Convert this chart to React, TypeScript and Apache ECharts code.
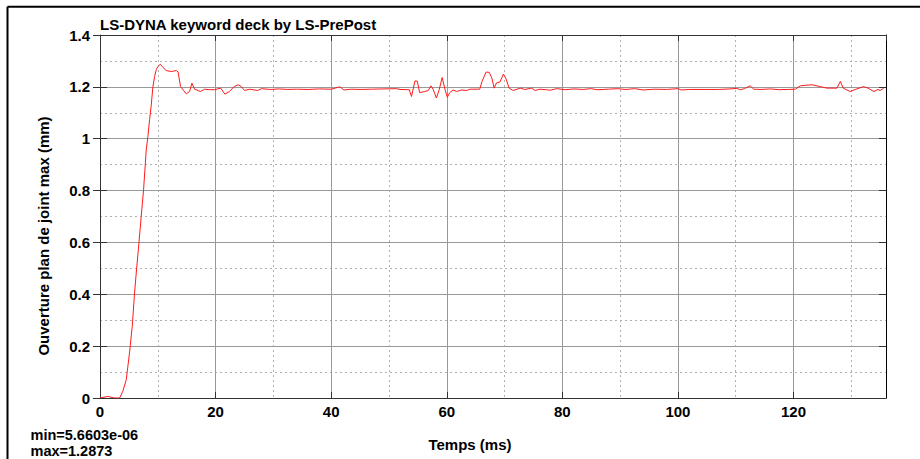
import React, { useEffect, useRef } from "react";
import * as echarts from "echarts";

const timeMs: number[] = [
  0, 1.35, 2.5, 3.4, 3.95, 4.54, 5.1, 5.58, 5.98, 6.27, 6.73, 7.13, 7.54, 8.0, 8.29, 8.58, 8.87, 9.15, 9.45, 9.73,
  10.0, 10.43, 10.9, 11.46, 12.33, 13.2, 13.5, 13.94, 14.93, 15.5, 15.9, 16.37, 17.4, 18.1, 18.97, 19.8, 20.9,
  21.6, 22.4, 23.2, 23.9, 24.45, 25.0, 25.9, 27.3, 27.9, 29.5, 31, 32.5, 34, 36, 38, 40, 41.5, 42.2, 43.5, 45,
  47, 49, 51.3, 51.9, 53.5, 53.9, 54.5, 54.9, 55.3, 56.2, 56.8, 57.25, 57.65, 58.2, 58.7, 59.2, 59.7, 60.1,
  60.5, 61.1, 61.7, 62.6, 63.4, 64.0, 65.7, 66.1, 66.8, 67.35, 67.8, 68.2, 68.6, 69.2, 69.8, 70.2, 70.8, 71.5,
  72.7, 73.5, 74.7, 75.3, 76.1, 77.3, 77.9, 79, 80.5, 82, 83.5, 85, 86, 88, 89.5, 91, 92.5, 94, 96, 98, 100,
  100.6, 102, 105, 107, 109, 110.2, 110.8, 111.5, 112.5, 113.1, 114.5, 116, 117.5, 119, 120.3, 121.2, 122,
  123.2, 124.6, 125.8, 127.5, 128.1, 128.6, 129.8, 130.7, 132.1, 132.9, 133.9, 134.6, 135.0, 135.6,
];

const opening: number[] = [
  0, 0.006, 0, 0, 0.026, 0.07, 0.173, 0.276, 0.405, 0.482, 0.597, 0.7, 0.803, 0.957, 1.009, 1.073, 1.13, 1.2,
  1.24, 1.266, 1.278, 1.2873, 1.275, 1.263, 1.259, 1.263, 1.258, 1.201, 1.173, 1.182, 1.214, 1.191, 1.182,
  1.191, 1.189, 1.189, 1.195, 1.172, 1.182, 1.201, 1.208, 1.201, 1.186, 1.191, 1.186, 1.193, 1.19, 1.192,
  1.19, 1.191, 1.19, 1.192, 1.191, 1.2, 1.188, 1.191, 1.19, 1.191, 1.192, 1.193, 1.19, 1.189, 1.163, 1.223,
  1.222, 1.178, 1.182, 1.186, 1.204, 1.19, 1.157, 1.19, 1.236, 1.19, 1.16, 1.177, 1.188, 1.182, 1.188, 1.186,
  1.191, 1.191, 1.221, 1.257, 1.256, 1.234, 1.195, 1.215, 1.219, 1.249, 1.234, 1.195, 1.186, 1.195, 1.19,
  1.195, 1.186, 1.191, 1.189, 1.187, 1.193, 1.189, 1.192, 1.19, 1.193, 1.189, 1.191, 1.193, 1.19, 1.193,
  1.188, 1.191, 1.19, 1.193, 1.188, 1.19, 1.19, 1.19, 1.192, 1.194, 1.189, 1.193, 1.204, 1.191, 1.19, 1.192,
  1.189, 1.19, 1.191, 1.204, 1.206, 1.208, 1.201, 1.195, 1.195, 1.221, 1.195, 1.182, 1.19, 1.201, 1.195,
  1.182, 1.19, 1.186, 1.195,
];

const xTickValues: number[] = [0, 20, 40, 60, 80, 100, 120];
const yTickValues: number[] = [0, 0.2, 0.4, 0.6, 0.8, 1, 1.2, 1.4];

const titleText = "LS-DYNA keyword deck by LS-PrePost";
const xName = "Temps (ms)";
const yName = "Ouverture plan de joint max (mm)";
const minText = "min=5.6603e-06";
const maxText = "max=1.2873";

const FONT = '"Liberation Sans", Arial, sans-serif';

export default function App() {
  const ref = useRef<HTMLDivElement>(null);
  useEffect(() => {
    if (!ref.current) return;
    const chart = echarts.init(ref.current, null, { renderer: "svg" });
    const data = timeMs.map((t, i) => [t, opening[i]]);
    const xMin = 0;
    const xMax = 136;
    const yMin = 0;
    const yMax = 1.4;
    const noLabel = { show: false };
    const xFmt = (v: number) => (xTickValues.indexOf(Math.round(v * 1000) / 1000) >= 0 ? String(v) : "");
    const yFmt = (v: number) => {
      const r = Math.round(v * 1000) / 1000;
      return yTickValues.indexOf(r) >= 0 ? String(r) : "";
    };
    chart.setOption({
      animation: false,
      backgroundColor: "#ffffff",
      grid: { left: 100, right: 34, top: 35, bottom: 61, containLabel: false, outerBoundsMode: "none" },
      xAxis: [
        {
          type: "value", min: xMin, max: xMax, interval: 10, position: "bottom", z: 0,
          axisLine: { show: false, onZero: false }, axisTick: { show: false }, axisLabel: noLabel,
          splitLine: { show: true, lineStyle: { color: "#b0b0b0", width: 1, type: [2, 3] } },
        },
        {
          type: "value", min: xMin, max: xMax, interval: 20, position: "bottom", z: 1,
          axisLine: { show: true, onZero: false, lineStyle: { color: "#333", width: 1 } },
          axisTick: { show: true, inside: true, length: 6, lineStyle: { color: "#333" } },
          axisLabel: { show: true, margin: 6, formatter: xFmt, showMaxLabel: false, color: "#000", fontSize: 15, fontWeight: "bold", fontFamily: FONT },
          splitLine: { show: true, lineStyle: { color: "#999", width: 1 } },
        },
        {
          type: "value", min: xMin, max: xMax, interval: 20, position: "top", z: 3,
          axisLine: { show: true, onZero: false, lineStyle: { color: "#333", width: 1 } },
          axisTick: { show: true, inside: true, length: 6, lineStyle: { color: "#333" } },
          axisLabel: noLabel, splitLine: { show: false },
        },
      ],
      yAxis: [
        {
          type: "value", min: yMin, max: yMax, interval: 0.1, position: "left", z: 0,
          axisLine: { show: false, onZero: false }, axisTick: { show: false }, axisLabel: noLabel,
          splitLine: { show: true, lineStyle: { color: "#b0b0b0", width: 1, type: [2, 3] } },
        },
        {
          type: "value", min: yMin, max: yMax, interval: 0.2, position: "left", z: 1,
          axisLine: { show: true, onZero: false, lineStyle: { color: "#333", width: 1 } },
          axisTick: { show: true, inside: false, length: 7, lineStyle: { color: "#333" } },
          axisLabel: { show: true, margin: 10, formatter: yFmt, color: "#000", fontSize: 15, fontWeight: "bold", fontFamily: FONT },
          splitLine: { show: true, lineStyle: { color: "#999", width: 1 } },
        },
        {
          type: "value", min: yMin, max: yMax, interval: 0.2, position: "left", z: 3,
          axisLine: { show: false, onZero: false },
          axisTick: { show: true, inside: true, length: 7, lineStyle: { color: "#333" } },
          axisLabel: noLabel, splitLine: { show: false },
        },
        {
          type: "value", min: yMin, max: yMax, interval: 0.2, position: "right", z: 3,
          axisLine: { show: true, onZero: false, lineStyle: { color: "#000", width: 1 } },
          axisTick: { show: true, inside: true, length: 7, lineStyle: { color: "#333" } },
          axisLabel: noLabel, splitLine: { show: false },
        },
      ],
      series: [
        {
          type: "line", xAxisIndex: 1, yAxisIndex: 1, data, showSymbol: false, symbol: "none",
          lineStyle: { color: "#ff1a1a", width: 1 }, z: 2,
        },
      ],
      graphic: [
        { type: "line", shape: { x1: 7.5, y1: 6.7, x2: 920, y2: 6.7 }, style: { stroke: "#000", lineWidth: 2 } },
        { type: "line", shape: { x1: 7.5, y1: 6.7, x2: 7.5, y2: 459 }, style: { stroke: "#000", lineWidth: 2 } },
        { type: "text", x: 100, y: 24.5, style: { text: titleText, font: `bold 15px ${FONT}`, fill: "#000", align: "left", verticalAlign: "middle" } },
        { type: "text", x: 470, y: 444, style: { text: xName, font: `bold 15px ${FONT}`, fill: "#000", align: "center", verticalAlign: "middle" } },
        { type: "text", x: 43, y: 236, rotation: Math.PI / 2, style: { text: yName, font: `bold 15px ${FONT}`, fill: "#000", align: "center", verticalAlign: "middle" } },
        { type: "text", x: 30.5, y: 434.6, style: { text: minText, font: `bold 14.5px ${FONT}`, fill: "#000", align: "left", verticalAlign: "middle" } },
        { type: "text", x: 30.5, y: 450.7, style: { text: maxText, font: `bold 14.5px ${FONT}`, fill: "#000", align: "left", verticalAlign: "middle" } },
      ],
    });
    return () => chart.dispose();
  }, []);
  return <div ref={ref} style={{ position: "fixed", left: 0, top: 0, width: 920, height: 459, background: "#fff" }} />;
}
